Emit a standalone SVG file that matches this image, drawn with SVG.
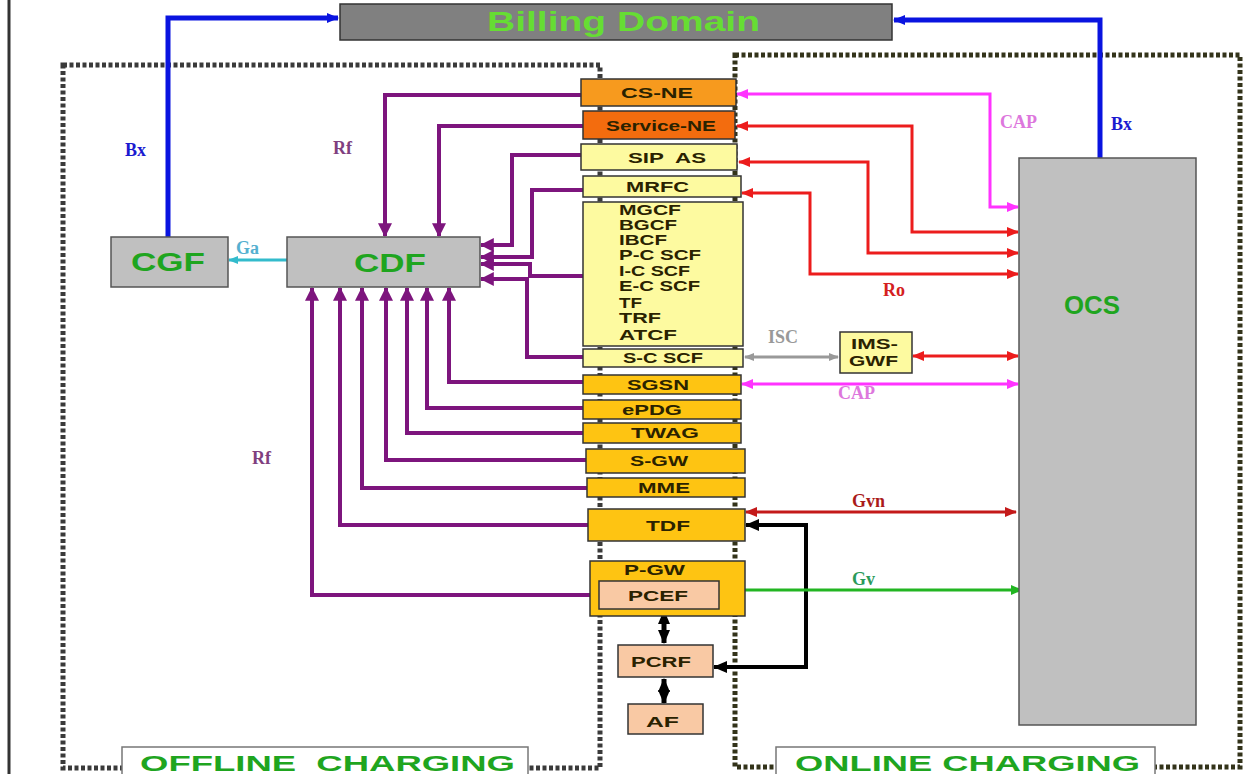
<svg xmlns="http://www.w3.org/2000/svg" width="1255" height="774" viewBox="0 0 1255 774">
<style>
.box{stroke:#333;stroke-width:1.5}
.gray{fill:#c0c0c0;stroke:#555;stroke-width:1.5}
.or{fill:#f79a1e}
.or2{fill:#f36c0e}
.yl{fill:#fdfaa0}
.gd{fill:#fec412}
.pe{fill:#f9c9a4}
.t{font-family:"Liberation Sans",Arial,sans-serif;font-weight:bold;font-size:15px;fill:#2a2200}
.tl{font-family:"Liberation Sans",Arial,sans-serif;font-weight:bold;font-size:15px;fill:#2a2200}
.big{font-family:"Liberation Sans",Arial,sans-serif;font-weight:bold;font-size:25px;fill:#1fa51f}
.lab{font-family:"Liberation Serif","Times New Roman",serif;font-weight:bold;font-size:18px}
.dot{fill:none;stroke-width:5;stroke-dasharray:4 2.5}
.p{fill:none;stroke:#7d157d;stroke-width:4}
.r{fill:none;stroke:#ec1c1c;stroke-width:3}
.m{fill:none;stroke:#ff33ff;stroke-width:3}
.b{fill:none;stroke:#0a14e0;stroke-width:5}
.k{fill:none;stroke:#000;stroke-width:4}
</style>
<defs>
<marker id="aP" markerUnits="userSpaceOnUse" markerWidth="14" markerHeight="14" viewBox="0 0 12 12" refX="11" refY="6" orient="auto-start-reverse"><path d="M0,0 L12,6 L0,12 z" fill="#7d157d"/></marker>
<marker id="aB" markerUnits="userSpaceOnUse" markerWidth="12" markerHeight="12" viewBox="0 0 12 12" refX="11" refY="6" orient="auto-start-reverse"><path d="M0,1 L12,6 L0,11 z" fill="#0a14e0"/></marker>
<marker id="aR" markerUnits="userSpaceOnUse" markerWidth="12" markerHeight="10" viewBox="0 0 12 10" refX="11" refY="5" orient="auto-start-reverse"><path d="M0,0 L12,5 L0,10 z" fill="#ec1c1c"/></marker>
<marker id="aD" markerUnits="userSpaceOnUse" markerWidth="12" markerHeight="10" viewBox="0 0 12 10" refX="11" refY="5" orient="auto-start-reverse"><path d="M0,0 L12,5 L0,10 z" fill="#c41a1a"/></marker>
<marker id="aM" markerUnits="userSpaceOnUse" markerWidth="12" markerHeight="10" viewBox="0 0 12 10" refX="11" refY="5" orient="auto-start-reverse"><path d="M0,0 L12,5 L0,10 z" fill="#ff33ff"/></marker>
<marker id="aK" markerUnits="userSpaceOnUse" markerWidth="14" markerHeight="12" viewBox="0 0 14 12" refX="13" refY="6" orient="auto-start-reverse"><path d="M0,0 L14,6 L0,12 z" fill="#000"/></marker>
<marker id="aG" markerUnits="userSpaceOnUse" markerWidth="12" markerHeight="10" viewBox="0 0 12 10" refX="11" refY="5" orient="auto-start-reverse"><path d="M0,0 L12,5 L0,10 z" fill="#22b522"/></marker>
<marker id="aC" markerUnits="userSpaceOnUse" markerWidth="10" markerHeight="8" viewBox="0 0 10 8" refX="9" refY="4" orient="auto-start-reverse"><path d="M0,0 L10,4 L0,8 z" fill="#33bbcc"/></marker>
<marker id="aY" markerUnits="userSpaceOnUse" markerWidth="10" markerHeight="8" viewBox="0 0 10 8" refX="9" refY="4" orient="auto-start-reverse"><path d="M0,0 L10,4 L0,8 z" fill="#999"/></marker>
</defs>
<rect width="1255" height="774" fill="#fff"/>
<line x1="9" y1="0" x2="9" y2="774" stroke="#333" stroke-width="3"/>

<g id="offline-domain">
<rect class="dot" x="63" y="65" width="537" height="703" stroke="#3a3a3a"/>
</g>
<g id="online-domain">
<rect class="dot" x="735" y="55" width="505" height="712" stroke="#33331a"/>
</g>

<g id="connectors">
<path class="b" d="M168,237 V18 H338" marker-end="url(#aB)"/>
<path class="b" d="M1100,158 V20 H894" marker-end="url(#aB)"/>
<path d="M287,260 H229" fill="none" stroke="#33bbcc" stroke-width="3" marker-end="url(#aC)"/>
<path class="p" d="M581,95 H385 V236" marker-end="url(#aP)"/>
<path class="p" d="M583,126 H439 V236" marker-end="url(#aP)"/>
<path class="p" d="M581,155 H512 V245 H481" marker-end="url(#aP)"/>
<path class="p" d="M583,190 H532 V257 H481" marker-end="url(#aP)"/>
<path class="p" d="M583,276 H530 V264 H481" marker-end="url(#aP)"/>
<path class="p" d="M583,357 H527 V279 H481" marker-end="url(#aP)"/>
<path class="p" d="M584,382 H449 V288" marker-end="url(#aP)"/>
<path class="p" d="M583,408 H427 V288" marker-end="url(#aP)"/>
<path class="p" d="M583,433 H407 V288" marker-end="url(#aP)"/>
<path class="p" d="M586,460 H386 V288" marker-end="url(#aP)"/>
<path class="p" d="M587,488 H362 V288" marker-end="url(#aP)"/>
<path class="p" d="M588,525 H340 V288" marker-end="url(#aP)"/>
<path class="p" d="M590,595 H312 V288" marker-end="url(#aP)" stroke-width="4.5"/>
<path class="m" d="M737,94 H990 V207 H1018" marker-start="url(#aM)" marker-end="url(#aM)"/>
<path class="r" d="M737,126 H912 V232 H1018" marker-start="url(#aR)" marker-end="url(#aR)"/>
<path class="r" d="M739,162 H868 V253 H1018" marker-start="url(#aR)" marker-end="url(#aR)"/>
<path class="r" d="M742,193 H810 V274 H1018" marker-start="url(#aR)" marker-end="url(#aR)"/>
<path d="M745,357 H838" fill="none" stroke="#999" stroke-width="3" marker-start="url(#aY)" marker-end="url(#aY)"/>
<path class="r" d="M913,356 H1018" marker-start="url(#aR)" marker-end="url(#aR)"/>
<path class="m" d="M742,384 H1018" marker-start="url(#aM)" marker-end="url(#aM)"/>
<path d="M746,512 H1016" fill="none" stroke="#c41a1a" stroke-width="3" marker-start="url(#aD)" marker-end="url(#aD)"/>
<path class="k" d="M714,667 H806 V525 H746" marker-start="url(#aK)" marker-end="url(#aK)"/>
<path d="M720,590 H1022" fill="none" stroke="#22b522" stroke-width="3" marker-start="url(#aG)" marker-end="url(#aG)"/>
<path d="M664,611 V643" fill="none" stroke="#000" stroke-width="5" marker-start="url(#aK)" marker-end="url(#aK)"/>
<path d="M664,679 V703" fill="none" stroke="#000" stroke-width="5" marker-start="url(#aK)" marker-end="url(#aK)"/>
<text class="lab" x="125" y="156" fill="#1a1ad0">Bx</text>
<text class="lab" x="1111" y="130" fill="#1a1ad0">Bx</text>
<text class="lab" x="333" y="154" fill="#7f3f7f">Rf</text>
<text class="lab" x="252" y="464" fill="#7f3f7f">Rf</text>
<text class="lab" x="236" y="254" fill="#55b0d0" font-size="16">Ga</text>
<text class="lab" x="1000" y="128" fill="#dd77dd" font-weight="normal">CAP</text>
<text class="lab" x="838" y="399" fill="#dd77dd" font-weight="normal">CAP</text>
<text class="lab" x="883" y="296" fill="#d42020">Ro</text>
<text class="lab" x="768" y="343" fill="#999" font-weight="normal">ISC</text>
<text class="lab" x="852" y="507" fill="#aa1a1a">Gvn</text>
<text class="lab" x="852" y="585" fill="#2a9a5a">Gv</text>
</g>

<g id="billing-domain">
<rect x="340" y="4" width="552" height="36" fill="#808080" stroke="#333" stroke-width="1.5"/>
<text x="487" y="31" font-family="Liberation Sans,Arial,sans-serif" font-weight="bold" font-size="27" fill="#66dd33" textLength="273" lengthAdjust="spacingAndGlyphs">Billing Domain</text>
</g>
<g id="cgf"><rect class="gray" x="111" y="237" width="117" height="50"/><text class="big" x="131" y="271" textLength="74" lengthAdjust="spacingAndGlyphs">CGF</text></g>
<g id="cdf"><rect class="gray" x="287" y="237" width="193" height="50"/><text class="big" x="354" y="272" textLength="72" lengthAdjust="spacingAndGlyphs">CDF</text></g>
<g id="ocs"><rect class="gray" x="1019" y="158" width="177" height="567"/><text class="big" x="1064" y="314" textLength="56" lengthAdjust="spacingAndGlyphs">OCS</text></g>

<g id="cs-ne"><rect class="box or" x="581" y="79" width="155" height="27"/><text class="t" x="621" y="98" textLength="72" lengthAdjust="spacingAndGlyphs">CS-NE</text></g>
<g id="service-ne"><rect class="box or2" x="583" y="111" width="152" height="28"/><text class="t" x="606" y="131" textLength="110" lengthAdjust="spacingAndGlyphs">Service-NE</text></g>
<g id="sip-as"><rect class="box yl" x="581" y="144" width="156" height="26"/><text class="t" x="628" y="163" textLength="78" lengthAdjust="spacingAndGlyphs" xml:space="preserve">SIP  AS</text></g>
<g id="mrfc"><rect class="box yl" x="583" y="176" width="158" height="21"/><text class="t" x="626" y="192" textLength="63" lengthAdjust="spacingAndGlyphs">MRFC</text></g>
<g id="ims-cscf-group"><rect class="box yl" x="583" y="202" width="160" height="144"/>
<text class="tl" x="619" y="215" textLength="62" lengthAdjust="spacingAndGlyphs">MGCF</text>
<text class="tl" x="619" y="230" textLength="58" lengthAdjust="spacingAndGlyphs">BGCF</text>
<text class="tl" x="619" y="245" textLength="48" lengthAdjust="spacingAndGlyphs">IBCF</text>
<text class="tl" x="619" y="260" textLength="82" lengthAdjust="spacingAndGlyphs">P-C SCF</text>
<text class="tl" x="619" y="276" textLength="71" lengthAdjust="spacingAndGlyphs">I-C SCF</text>
<text class="tl" x="619" y="291" textLength="81" lengthAdjust="spacingAndGlyphs">E-C SCF</text>
<text class="tl" x="619" y="308" textLength="23" lengthAdjust="spacingAndGlyphs">TF</text>
<text class="tl" x="619" y="323" textLength="42" lengthAdjust="spacingAndGlyphs">TRF</text>
<text class="tl" x="619" y="340" textLength="58" lengthAdjust="spacingAndGlyphs">ATCF</text>
</g>
<g id="s-cscf"><rect class="box yl" x="583" y="349" width="160" height="18"/><text class="t" x="623" y="363" textLength="80" lengthAdjust="spacingAndGlyphs">S-C SCF</text></g>
<g id="sgsn"><rect class="box gd" x="583" y="375" width="158" height="19"/><text class="t" x="627" y="390" textLength="62" lengthAdjust="spacingAndGlyphs">SGSN</text></g>
<g id="epdg"><rect class="box gd" x="583" y="400" width="158" height="19"/><text class="t" x="622" y="415" textLength="60" lengthAdjust="spacingAndGlyphs">ePDG</text></g>
<g id="twag"><rect class="box gd" x="583" y="423" width="158" height="20"/><text class="t" x="631" y="438" textLength="68" lengthAdjust="spacingAndGlyphs">TWAG</text></g>
<g id="s-gw"><rect class="box gd" x="586" y="449" width="159" height="24"/><text class="t" x="630" y="466" textLength="58" lengthAdjust="spacingAndGlyphs">S-GW</text></g>
<g id="mme"><rect class="box gd" x="587" y="478" width="158" height="19"/><text class="t" x="638" y="493" textLength="52" lengthAdjust="spacingAndGlyphs">MME</text></g>
<g id="tdf"><rect class="box gd" x="588" y="509" width="157" height="32"/><text class="t" x="646" y="531" textLength="44" lengthAdjust="spacingAndGlyphs">TDF</text></g>
<g id="p-gw"><rect class="box gd" x="590" y="561" width="155" height="55"/><text class="t" x="624" y="575" textLength="61" lengthAdjust="spacingAndGlyphs">P-GW</text>
<g id="pcef"><rect class="box pe" x="599" y="581" width="120" height="28"/><text class="t" x="628" y="601" textLength="60" lengthAdjust="spacingAndGlyphs">PCEF</text></g></g>
<g id="pcrf"><rect class="box pe" x="618" y="645" width="95" height="32"/><text class="t" x="631" y="667" textLength="60" lengthAdjust="spacingAndGlyphs">PCRF</text></g>
<g id="af"><rect class="box pe" x="628" y="704" width="75" height="30"/><text class="t" x="646" y="727" font-size="19" textLength="33" lengthAdjust="spacingAndGlyphs">AF</text></g>
<g id="ims-gwf"><rect class="box yl" x="840" y="332" width="72" height="41"/><text class="t" x="851" y="349" textLength="47" lengthAdjust="spacingAndGlyphs">IMS-</text><text class="t" x="849" y="366" textLength="49" lengthAdjust="spacingAndGlyphs">GWF</text></g>

<g id="offline-label"><rect x="122" y="747" width="406" height="40" fill="#fff" stroke="#777" stroke-width="1.5"/>
<text x="140" y="771" font-family="Liberation Sans,Arial,sans-serif" font-weight="bold" font-size="22" fill="#1fa51f" textLength="375" lengthAdjust="spacingAndGlyphs" xml:space="preserve">OFFLINE  CHARGING</text></g>
<g id="online-label"><rect x="776" y="747" width="379" height="40" fill="#fff" stroke="#777" stroke-width="1.5"/>
<text x="795" y="771" font-family="Liberation Sans,Arial,sans-serif" font-weight="bold" font-size="22" fill="#1fa51f" textLength="345" lengthAdjust="spacingAndGlyphs">ONLINE CHARGING</text></g>
</svg>
